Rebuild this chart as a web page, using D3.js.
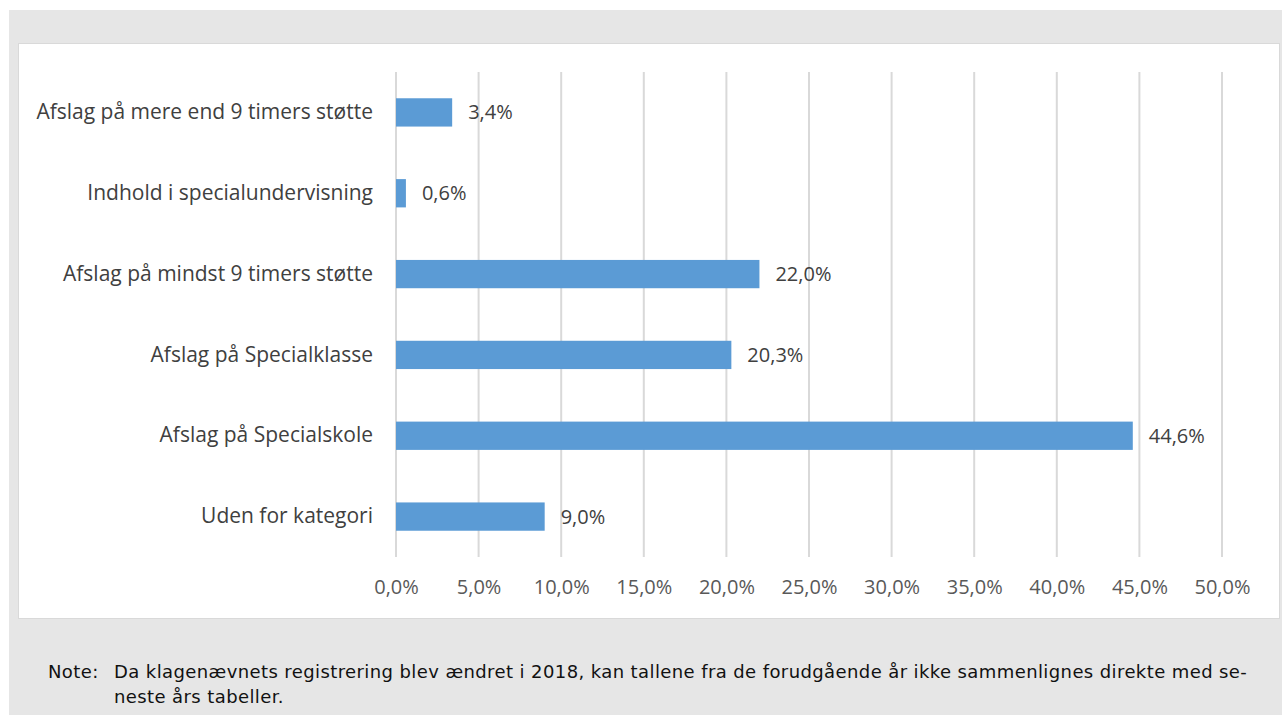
<!DOCTYPE html>
<html>
<head>
<meta charset="utf-8">
<script src="https://cdn.jsdelivr.net/npm/d3@7"></script>
<style>
  body { margin: 0; background: #fff; }
  svg { display: block; }
</style>
</head>
<body>
<div id="chart"></div>
<script>
// Données du graphique
const categories = [
  "Afslag på mere end 9 timers støtte",
  "Indhold i specialundervisning",
  "Afslag på mindst 9 timers støtte",
  "Afslag på Specialklasse",
  "Afslag på Specialskole",
  "Uden for kategori"
];
const values = [3.4, 0.6, 22.0, 20.3, 44.6, 9.0];
const ticks = [0, 5, 10, 15, 20, 25, 30, 35, 40, 45, 50];
const noteLines = [
  "Da klagenævnets registrering blev ændret i 2018, kan tallene fra de forudgående år ikke sammenlignes direkte med se-",
  "neste års tabeller."
];

const width = 1282;
const height = 715;
const fmt = (v) => v.toFixed(1).replace(".", ",") + "%";
const labelFont = "Open Sans, sans-serif";

const svg = d3
  .select("#chart")
  .append("svg")
  .attr("width", width)
  .attr("height", height);

// Fond gris + cadre blanc
svg.append("rect")
  .attr("x", 9).attr("y", 10)
  .attr("width", width - 9).attr("height", height - 10)
  .style("fill", "#e6e6e6");

svg.append("rect")
  .attr("x", 18.5).attr("y", 43.5)
  .attr("width", 1261).attr("height", 575)
  .style("fill", "#fff")
  .style("stroke", "#d9d9d9")
  .style("stroke-width", 1);

// Échelles
const x = d3.scaleLinear().domain([0, 50]).range([396, 1222]);
const y = d3.scaleBand().domain(categories).range([72, 557]).paddingInner(0.65).paddingOuter(0.325);

// Lignes de grille
svg.selectAll("line.grid")
  .data(ticks)
  .enter()
  .append("line")
  .attr("class", "grid")
  .attr("x1", (d) => x(d)).attr("x2", (d) => x(d))
  .attr("y1", 72).attr("y2", 557)
  .style("stroke", "#d9d9d9")
  .style("stroke-width", 2);

// Barres
svg.selectAll("rect.bar")
  .data(values)
  .enter()
  .append("rect")
  .attr("class", "bar")
  .attr("x", x(0))
  .attr("y", (d, i) => y(categories[i]))
  .attr("width", (d) => x(d) - x(0))
  .attr("height", y.bandwidth())
  .style("fill", "#5b9bd5");

// Étiquettes des valeurs
svg.selectAll("text.val")
  .data(values)
  .enter()
  .append("text")
  .attr("class", "val")
  .attr("x", (d) => x(d) + 16)
  .attr("y", (d, i) => y(categories[i]) + y.bandwidth() / 2)
  .attr("dy", "0.35em")
  .style("font-family", labelFont)
  .style("font-size", "20px")
  .style("fill", "#404040")
  .text(fmt);

// Axe Y (catégories)
const yAxis = svg.append("g")
  .attr("transform", `translate(${x(0)},0)`)
  .call(d3.axisLeft(y).tickSize(0).tickPadding(23));
yAxis.select(".domain").remove();
yAxis.selectAll("text")
  .style("font-family", labelFont)
  .style("font-size", "21px")
  .style("fill", "#404040");

// Axe X
const xAxis = svg.append("g")
  .attr("transform", "translate(0,557)")
  .call(d3.axisBottom(x).tickValues(ticks).tickSize(0).tickPadding(23).tickFormat(fmt));
xAxis.select(".domain").remove();
xAxis.selectAll("text")
  .style("font-family", labelFont)
  .style("font-size", "20px")
  .style("fill", "#595959");

// Note
const note = svg.append("g").style("font-family", "DejaVu Sans, Verdana, sans-serif")
  .style("font-size", "18px").style("letter-spacing", "0.4px").style("fill", "#111");
note.append("text").attr("x", 48).attr("y", 678).text("Note:");
note.selectAll("text.line")
  .data(noteLines)
  .enter()
  .append("text")
  .attr("class", "line")
  .attr("x", 114)
  .attr("y", (d, i) => 678 + i * 25)
  .text((d) => d);
</script>
</body>
</html>
